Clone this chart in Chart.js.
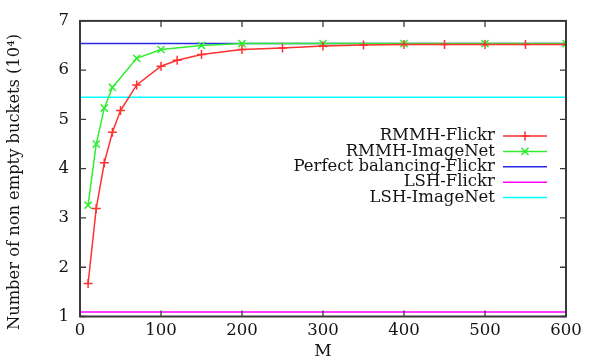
<!DOCTYPE html>
<html>
<head>
<meta charset="utf-8">
<script src="https://cdn.jsdelivr.net/npm/chart.js@4.4.0/dist/chart.umd.min.js"></script>
<style>
    html, body { margin: 0; padding: 0; background: #fff; }
    #wrap { width: 594px; height: 360px; }
</style>
</head>
<body>
<div id="wrap"><canvas id="bucketsChart"></canvas></div>
<script>
// Values (y in units of 10^4)
const mFlickr = [10, 20, 30, 40, 50, 70, 100, 120, 150, 200, 250, 300, 350, 400, 450, 500, 550, 600];
const rmmhFlickr = [1.67, 3.19, 4.12, 4.74, 5.18, 5.70, 6.08, 6.20, 6.32, 6.42, 6.45, 6.49, 6.51, 6.52, 6.52, 6.52, 6.52, 6.52];
const mImageNet = [10, 20, 30, 40, 70, 100, 150, 200, 300, 400, 500, 600];
const rmmhImageNet = [3.26, 4.50, 5.23, 5.65, 6.24, 6.42, 6.50, 6.54, 6.54, 6.54, 6.54, 6.54];
const perfectFlickr = 6.54;
const lshFlickr = 1.09;
const lshImageNet = 5.45;
const xRange = [0, 600];
const xTicks = [0, 100, 200, 300, 400, 500, 600];
const yTicks = [1, 2, 3, 4, 5, 6, 7];
const seriesLabels = ['RMMH-Flickr', 'RMMH-ImageNet', 'Perfect balancing-Flickr', 'LSH-Flickr', 'LSH-ImageNet'];

const FONT = 'DejaVu Serif';
const INK = '#141414';

function points(xs, ys) {
    return xs.map((x, i) => ({ x: x, y: ys[i] }));
}
function flat(v) {
    return xRange.map(x => ({ x: x, y: v }));
}

// gnuplot-like frame with inward ticks, key and y label
const gnuplotFrame = {
    id: 'gnuplotFrame',
    afterDatasetsDraw(chart) {
        const ctx = chart.ctx;
        const a = chart.chartArea;
        const xs = chart.scales.x, ys = chart.scales.y;
        ctx.save();
        ctx.strokeStyle = '#3a3a3a';
        ctx.lineWidth = 2;
        ctx.strokeRect(a.left, a.top, a.right - a.left, a.bottom - a.top);
        ctx.lineWidth = 1.3;
        ctx.beginPath();
        xTicks.forEach(t => {
            const px = xs.getPixelForValue(t);
            ctx.moveTo(px, a.bottom); ctx.lineTo(px, a.bottom - 6);
            ctx.moveTo(px, a.top); ctx.lineTo(px, a.top + 6);
        });
        yTicks.forEach(t => {
            const py = ys.getPixelForValue(t);
            ctx.moveTo(a.left, py); ctx.lineTo(a.left + 6, py);
            ctx.moveTo(a.right, py); ctx.lineTo(a.right - 6, py);
        });
        ctx.stroke();

        // key
        ctx.font = '16.5px "' + FONT + '"';
        ctx.textAlign = 'right';
        ctx.textBaseline = 'middle';
        chart.data.datasets.forEach((ds, i) => {
            const y = 136 + i * 15.4;
            ctx.fillStyle = INK;
            ctx.fillText(ds.label, 495, y);
            ctx.strokeStyle = ds.borderColor;
            ctx.lineWidth = 1.5;
            ctx.beginPath();
            ctx.moveTo(503, y); ctx.lineTo(547, y);
            ctx.stroke();
            if (ds.pointRadius > 0) {
                const r = ds.pointRadius;
                ctx.beginPath();
                if (ds.pointStyle === 'cross') {
                    ctx.moveTo(525 - r, y); ctx.lineTo(525 + r, y);
                    ctx.moveTo(525, y - r); ctx.lineTo(525, y + r);
                } else {
                    const d = r * 0.707;
                    ctx.moveTo(525 - d, y - d); ctx.lineTo(525 + d, y + d);
                    ctx.moveTo(525 - d, y + d); ctx.lineTo(525 + d, y - d);
                }
                ctx.stroke();
            }
        });

        // y axis label
        ctx.translate(15, 182);
        ctx.rotate(-Math.PI / 2);
        ctx.textAlign = 'center';
        ctx.fillStyle = INK;
        ctx.font = '16.3px "' + FONT + '"';
        ctx.fillText('Number of non empty buckets (10\u2074)', 0, 0);
        ctx.restore();
    }
};

document.addEventListener('DOMContentLoaded', function() {
    const ctx = document.getElementById('bucketsChart').getContext('2d');
    new Chart(ctx, {
        type: 'scatter',
        data: {
            datasets: [{
                label: seriesLabels[0],
                data: points(mFlickr, rmmhFlickr),
                borderColor: '#ff3030',
                backgroundColor: '#ff3030',
                pointStyle: 'cross',
                pointRadius: 4.5,
                pointBorderWidth: 1.5,
                borderWidth: 1.5,
                showLine: true
            }, {
                label: seriesLabels[1],
                data: points(mImageNet, rmmhImageNet),
                borderColor: '#30ee30',
                backgroundColor: '#30ee30',
                pointStyle: 'crossRot',
                pointRadius: 5,
                pointBorderWidth: 1.5,
                borderWidth: 1.5,
                showLine: true
            }, {
                label: seriesLabels[2],
                data: flat(perfectFlickr),
                borderColor: '#2828e8',
                borderWidth: 1.5,
                pointRadius: 0,
                showLine: true
            }, {
                label: seriesLabels[3],
                data: flat(lshFlickr),
                borderColor: '#ff00ff',
                borderWidth: 1.5,
                pointRadius: 0,
                showLine: true
            }, {
                label: seriesLabels[4],
                data: flat(lshImageNet),
                borderColor: '#00ffff',
                borderWidth: 1.5,
                pointRadius: 0,
                showLine: true
            }]
        },
        options: {
            responsive: true,
            maintainAspectRatio: false,
            animation: false,
            layout: {
                padding: { left: 0, right: 28, top: 18, bottom: 0 }
            },
            plugins: {
                legend: { display: false },
                tooltip: { enabled: false }
            },
            scales: {
                x: {
                    type: 'linear',
                    min: xRange[0],
                    max: xRange[1],
                    afterBuildTicks: function(scale) {
                        scale.ticks = xTicks.map(v => ({ value: v }));
                    },
                    afterFit: function(scale) {
                        scale.height = 43.5;
                    },
                    grid: { display: false, drawTicks: false },
                    border: { display: false },
                    ticks: {
                        padding: 4,
                        color: INK,
                        font: { family: FONT, size: 16.5 }
                    },
                    title: {
                        display: true,
                        text: 'M',
                        color: INK,
                        padding: 0,
                        font: { family: FONT, size: 17, lineHeight: 0.95 }
                    }
                },
                y: {
                    min: 1,
                    max: 7,
                    afterBuildTicks: function(scale) {
                        scale.ticks = yTicks.map(v => ({ value: v }));
                    },
                    afterFit: function(scale) {
                        scale.width = 80;
                    },
                    grid: { display: false, drawTicks: false },
                    border: { display: false },
                    ticks: {
                        padding: 11,
                        color: INK,
                        font: { family: FONT, size: 16.5 }
                    }
                }
            }
        },
        plugins: [gnuplotFrame]
    });
});
</script>
</body>
</html>
